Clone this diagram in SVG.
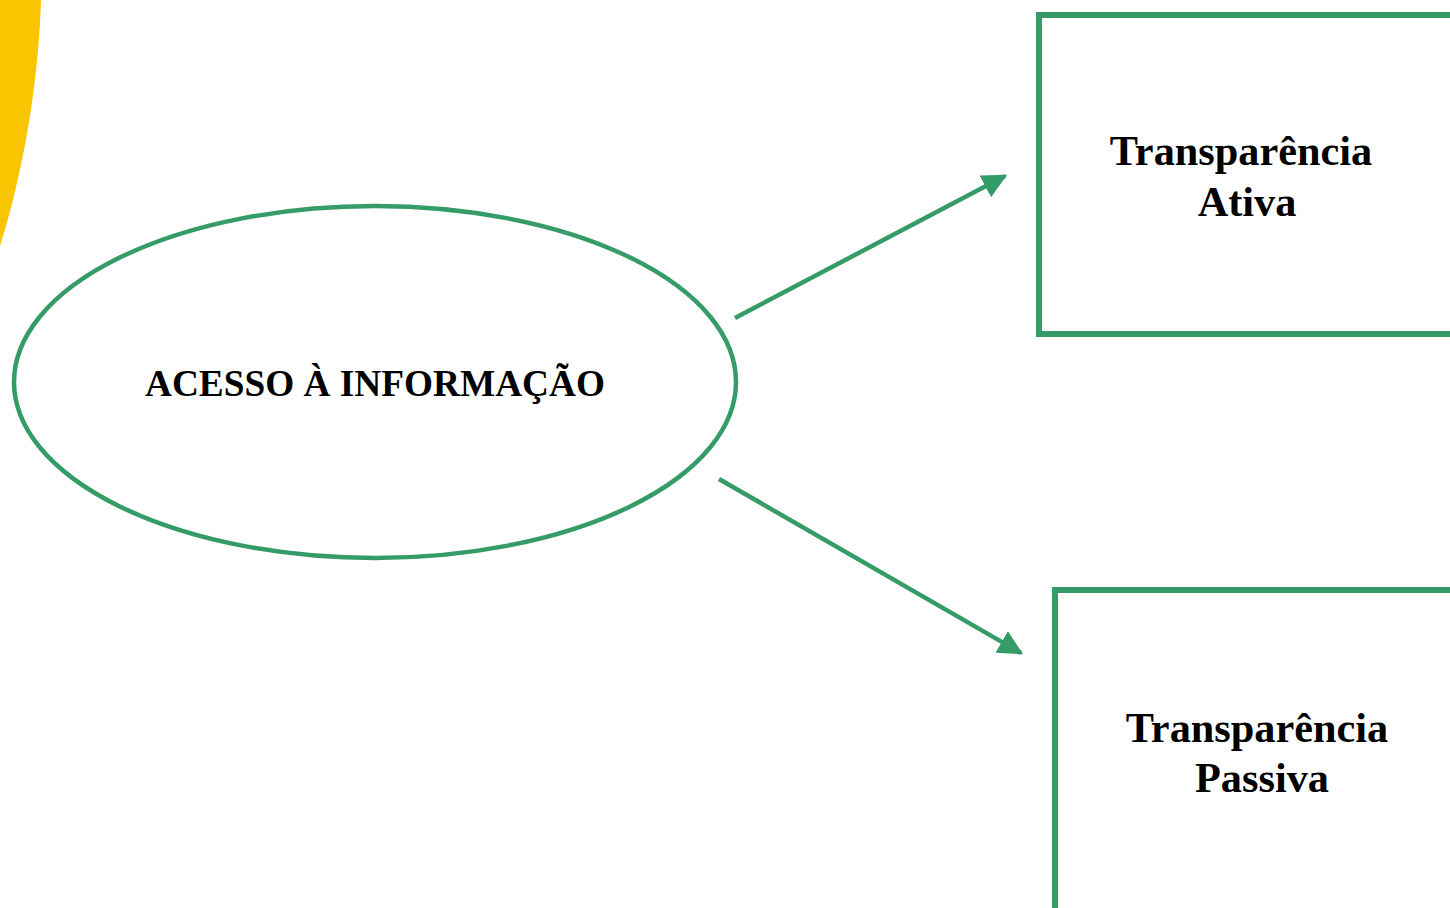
<svg xmlns="http://www.w3.org/2000/svg" width="1450" height="908" viewBox="0 0 1450 908">
<style>
.g{fill:none;stroke:#359B67;}
.t{font-family:"Liberation Serif","Times New Roman",serif;font-weight:bold;fill:#000;text-anchor:middle;}
</style>
<defs>
<marker id="ah" viewBox="0 0 10 10" refX="9" refY="5" markerWidth="5.5" markerHeight="5.5" markerUnits="strokeWidth" orient="auto">
<path d="M0,0 L10,5 L0,10 Z" fill="#359B67"/>
</marker>
</defs>
<rect width="1450" height="908" fill="#fff"/>
<path d="M0,0 L41,0 C38,90 22,175 0,246 Z" fill="#F9C400"/>
<g id="connectors">
<line class="g" stroke-width="4.5" x1="735" y1="318" x2="1005" y2="176" marker-end="url(#ah)"/>
<line class="g" stroke-width="4.5" x1="719" y1="479" x2="1021" y2="653" marker-end="url(#ah)"/>
</g>
<g id="acesso">
<ellipse class="g" stroke-width="4.5" cx="375" cy="382" rx="361" ry="176"/>
<text class="t" x="375" y="396" font-size="37.3">ACESSO À INFORMAÇÃO</text>
</g>
<g id="ativa">
<rect class="g" stroke-width="6" x="1039" y="15" width="420" height="319"/>
<text class="t" x="1241" y="165" font-size="42.3">Transparência</text>
<text class="t" x="1247" y="216" font-size="42.3">Ativa</text>
</g>
<g id="passiva">
<rect class="g" stroke-width="6" x="1055" y="590" width="410" height="330"/>
<text class="t" x="1257" y="742" font-size="42.3">Transparência</text>
<text class="t" x="1262" y="792" font-size="42.3">Passiva</text>
</g>
</svg>
